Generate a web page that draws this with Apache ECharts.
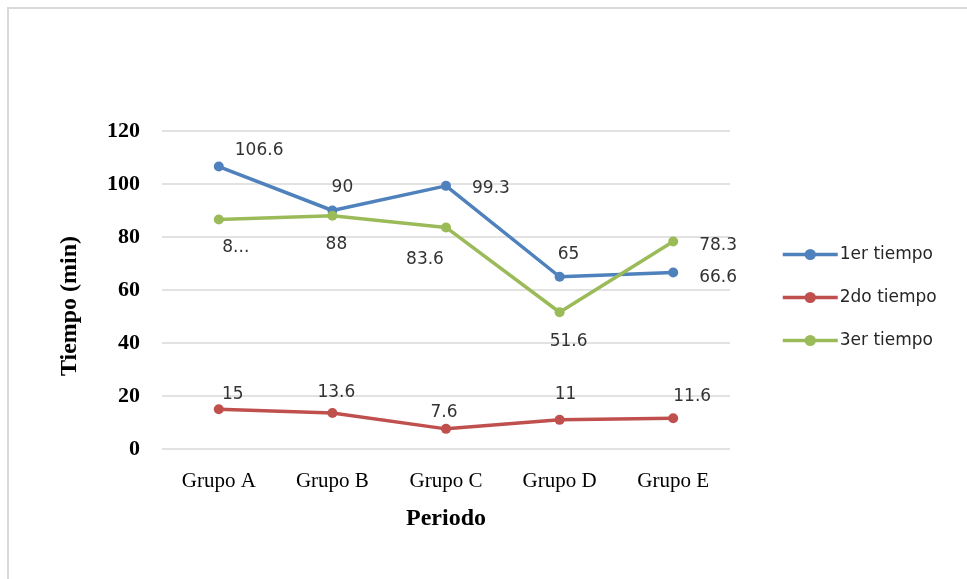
<!DOCTYPE html>
<html>
<head>
<meta charset="utf-8">
<script src="https://cdn.jsdelivr.net/npm/echarts@6/dist/echarts.min.js"></script>
<style>html,body{margin:0;padding:0;background:#fff}#c{width:967px;height:579px}</style>
</head>
<body>
<div id="c"></div>
<script>
const categories = ["Grupo A", "Grupo B", "Grupo C", "Grupo D", "Grupo E"];
const seriesNames = ["1er tiempo", "2do tiempo", "3er tiempo"];
const primero = [106.6, 90, 99.3, 65, 66.6];
const segundo = [15, 13.6, 7.6, 11, 11.6];
const tercero = [86.6, 88, 83.6, 51.6, 78.3];
const labelsPrimero = ["106.6", "90", "99.3", "65", "66.6"];
const labelsSegundo = ["15", "13.6", "7.6", "11", "11.6"];
const labelsTercero = ["8...", "88", "83.6", "51.6", "78.3"];
const yTicks = [0, 20, 40, 60, 80, 100, 120];

const colors = ["#4F81BD", "#C0504D", "#9BBB59"];

// label placement (layout only)
const layoutPrimero = [["right", [6, -16]], ["top", [10, -4]], ["right", [16, 3]], ["top", [9, -4]], ["right", [16, 5]]];
const layoutSegundo = [["top", [14, 4]], ["top", [4, -2]], ["top", [-2, 2]], ["top", [6, -7]], ["top", [19, -3]]];
const layoutTercero = [["bottom", [17, 10]], ["bottom", [4, 10]], ["bottom", [-21, 14]], ["bottom", [9, 11]], ["right", [16, 4]]];

function buildData(vals, labels, layout) {
  return vals.map((v, i) => ({
    value: v,
    label: { position: layout[i][0], offset: layout[i][1], formatter: labels[i] }
  }));
}

function mkSeries(name, vals, labels, layout, color) {
  return {
    name: name,
    type: "line",
    data: buildData(vals, labels, layout),
    symbol: "circle",
    symbolSize: 10,
    lineStyle: { width: 3.5, color: color },
    itemStyle: { color: color },
    label: { show: true, color: "#333333", fontFamily: "DejaVu Sans", fontSize: 17 },
    emphasis: { disabled: true },
    animation: false
  };
}

const chart = echarts.init(document.getElementById("c"));
chart.setOption({
  animation: false,
  backgroundColor: "#ffffff",
  graphic: [{
    type: "rect",
    shape: { x: 8, y: 8, width: 1000, height: 600 },
    style: { fill: "none", stroke: "#d9d9d9", lineWidth: 2 },
    silent: true
  }],
  grid: { left: 162, right: 237, top: 131, bottom: 130 },
  legend: {
    orient: "vertical",
    left: 781,
    top: 246,
    padding: 0,
    itemWidth: 55,
    itemHeight: 14,
    itemGap: 26,
    data: seriesNames,
    lineStyle: { width: 3.5 },
    textStyle: { fontFamily: "DejaVu Sans", fontSize: 17, color: "#262626", padding: [0, 0, 0, -3] }
  },
  xAxis: {
    type: "category",
    data: categories,
    boundaryGap: true,
    name: "Periodo",
    nameLocation: "middle",
    nameGap: 58,
    nameTextStyle: { fontFamily: "Liberation Serif", fontWeight: "bold", fontSize: 24, color: "#000" },
    axisLine: { show: false },
    axisTick: { show: false },
    axisLabel: { fontFamily: "Liberation Serif", fontSize: 21, color: "#000", margin: 22 }
  },
  yAxis: {
    type: "value",
    min: yTicks[0],
    max: yTicks[yTicks.length - 1],
    interval: 20,
    name: "Tiempo (min)",
    nameLocation: "middle",
    nameGap: 80,
    nameTextStyle: { fontFamily: "Liberation Serif", fontWeight: "bold", fontSize: 24, color: "#000", padding: [0, 32, 0, 0] },
    axisLine: { show: false },
    axisTick: { show: false },
    splitLine: { lineStyle: { color: "#d9d9d9", width: 1.5 } },
    axisLabel: { fontFamily: "Liberation Serif", fontWeight: "bold", fontSize: 22, color: "#000", margin: 22 }
  },
  series: [
    mkSeries(seriesNames[0], primero, labelsPrimero, layoutPrimero, colors[0]),
    mkSeries(seriesNames[1], segundo, labelsSegundo, layoutSegundo, colors[1]),
    mkSeries(seriesNames[2], tercero, labelsTercero, layoutTercero, colors[2])
  ]
});
</script>
</body>
</html>
